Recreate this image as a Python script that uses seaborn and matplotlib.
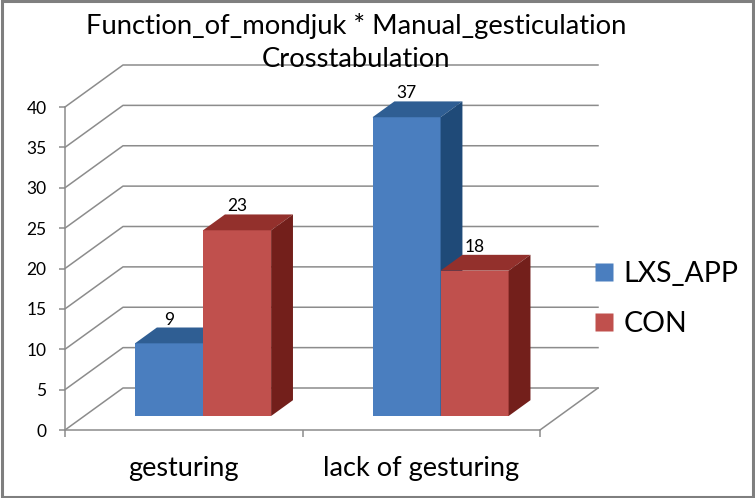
import matplotlib
matplotlib.use('Agg')
import matplotlib.pyplot as plt
import matplotlib.transforms as mtransforms
from matplotlib.patches import Polygon, Rectangle
from matplotlib.lines import Line2D
import pandas as pd
import seaborn as sns

# data
categories = ['gesturing', 'lack of gesturing']
series = ['LXS_APP', 'CON']
lxs_app = [9, 37]
con = [23, 18]
y_ticks = [0, 5, 10, 15, 20, 25, 30, 35, 40]
title = 'Function_of_mondjuk * Manual_gesticulation\nCrosstabulation'

front_colors = ['#4A7EBF', '#C0504D']
top_colors = ['#2F5E93', '#93302C']
side_colors = ['#1F4A78', '#731F1B']
grid_color = '#8C8C8C'

plt.rcParams['font.family'] = ['Lato', 'DejaVu Sans']

df = pd.DataFrame({
    'category': categories * 2,
    'series': [series[0]] * 2 + [series[1]] * 2,
    'value': lxs_app + con,
})

fig = plt.figure(figsize=(7.55, 4.98), dpi=100)
# axes = front plane of the 3d box
ax = fig.add_axes([65 / 755, 68 / 498, 475 / 755, 323 / 498])

sns.barplot(data=df, x='category', y='value', hue='series', palette=front_colors,
            saturation=1, width=0.573, ax=ax, legend=False)

# depth of the box in data units (floor goes ~58px right and 42px up)
dx_full, dy_full = 58 / 237.5, 42 / 8.075
f_front, f_back = 0.333, 0.71
ddx = dx_full * (f_back - f_front)
ddy = dy_full * (f_back - f_front)
shift = mtransforms.Affine2D().translate(dx_full * f_front, dy_full * f_front) + ax.transData

for i, cont in enumerate(ax.containers):
    for bar in cont:
        x0, w, h = bar.get_x(), bar.get_width(), bar.get_height()
        bar.set_transform(shift)
        bar.set_zorder(3 + i)
        bar.set_edgecolor('none')
        bar.set_clip_on(False)
        top = Polygon([(x0, h), (x0 + w, h), (x0 + w + ddx, h + ddy), (x0 + ddx, h + ddy)],
                      closed=True, fc=top_colors[i], ec='none', transform=shift,
                      zorder=3 + i, clip_on=False)
        side = Polygon([(x0 + w, 0), (x0 + w + ddx, ddy), (x0 + w + ddx, h + ddy), (x0 + w, h)],
                       closed=True, fc=side_colors[i], ec='none', transform=shift,
                       zorder=3 + i, clip_on=False)
        ax.add_patch(top)
        ax.add_patch(side)
        ax.text(x0 + w / 2, h + ddy, f'{h:g}', transform=shift, ha='center', va='bottom',
                fontsize=12.5, zorder=7, clip_on=False)

# walls / floor grid
for v in y_ticks:
    ax.plot([-0.5, -0.5 + dx_full, 1.5 + dx_full], [v, v + dy_full, v + dy_full],
            color=grid_color, lw=1.1, clip_on=False, zorder=1)
ax.plot([1.5, 1.5 + dx_full], [0, dy_full], color=grid_color, lw=1.1, clip_on=False, zorder=1)

ax.set_xlim(-0.5, 1.5)
ax.set_ylim(0, 40)
ax.set_xlabel('')
ax.set_ylabel('')
ax.patch.set_visible(False)
for s in ['top', 'right']:
    ax.spines[s].set_visible(False)
for s in ['left', 'bottom']:
    ax.spines[s].set_color(grid_color)
    ax.spines[s].set_linewidth(1.1)

ax.set_yticks(y_ticks)
ax.tick_params(axis='y', direction='out', length=4.3, width=1.1, color=grid_color,
               pad=9.0, labelsize=12.5)
ax.set_xticks([-0.5, 0.5, 1.5], labels=['', '', ''])
ax.set_xticks([0, 1], labels=categories, minor=True)
ax.tick_params(axis='x', which='major', direction='out', length=5, width=1.1, color=grid_color)
ax.tick_params(axis='x', which='minor', length=0, pad=19, labelsize=19.5)

handles = [Line2D([], [], ls='none', marker='s', markersize=12.5, mfc=c, mec='none')
           for c in front_colors]
fig.legend(handles, series, loc='center left', bbox_to_anchor=(595 / 755, 1 - 299 / 498),
           frameon=False, fontsize=20.5, handlelength=0.6, handletextpad=0.4,
           labelspacing=0.85, borderpad=0, borderaxespad=0)

fig.text(356 / 755, 1 - 12.8 / 498, title, ha='center', va='top', fontsize=19.7,
         linespacing=1.40, multialignment='center')

fig.add_artist(Rectangle((0.002, 0.003), 0.996, 0.994, transform=fig.transFigure,
                         fill=False, ec='#7F7F7F', lw=2.2))

fig.savefig('out.png', dpi=100)
